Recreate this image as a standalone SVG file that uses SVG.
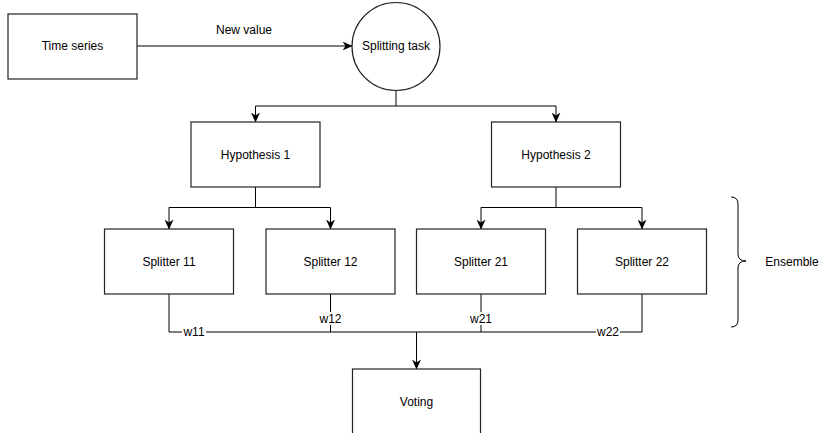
<svg xmlns="http://www.w3.org/2000/svg" width="823" height="433" viewBox="0 0 823 433">
  <style>
    .box { fill: #fff; stroke: #222; stroke-width: 1.2; }
    .edge { fill: none; stroke: #000; stroke-width: 1; }
    .lbl { font-family: "Liberation Sans", Arial, sans-serif; font-size: 12px; fill: #000; text-anchor: middle; dominant-baseline: central; }
    .wbg { fill: #fff; }
  </style>
  <defs>
    <marker id="arrow" viewBox="0 0 10 10" refX="9.5" refY="5" markerWidth="10" markerHeight="9" markerUnits="userSpaceOnUse" orient="auto" preserveAspectRatio="none">
      <path d="M0,0 L10,5 L0,10 L3,5 Z" fill="#000"/>
    </marker>
  </defs>
  <rect width="823" height="433" fill="#fff"/>

  <g id="connectors">
    <!-- input stream -->
    <line class="edge" x1="137" y1="46" x2="352" y2="46" marker-end="url(#arrow)"/>
    <text class="lbl" x="244" y="30">New value</text>
    <!-- task to hypotheses -->
    <path class="edge" d="M396,90 V106 H255.5 V122" marker-end="url(#arrow)"/>
    <path class="edge" d="M396,106 H556 V122" marker-end="url(#arrow)"/>
    <!-- hypotheses to splitters -->
    <path class="edge" d="M255.5,187 V207.5 H169 V229" marker-end="url(#arrow)"/>
    <path class="edge" d="M255.5,207.5 H330.5 V229" marker-end="url(#arrow)"/>
    <path class="edge" d="M556,187 V207.5 H481 V229" marker-end="url(#arrow)"/>
    <path class="edge" d="M556,207.5 H642 V229" marker-end="url(#arrow)"/>
    <!-- weighted splitter outputs -->
    <path class="edge" d="M169,294 V332 H642 V294"/>
    <line class="edge" x1="330.5" y1="294" x2="330.5" y2="332"/>
    <line class="edge" x1="481" y1="294" x2="481" y2="332"/>
    <line class="edge" x1="416.5" y1="332" x2="416.5" y2="369" stroke-width="2" marker-end="url(#arrow)"/>
    <rect class="wbg" x="182" y="325" width="24" height="14"/>
    <text class="lbl" x="194" y="332">w11</text>
    <rect class="wbg" x="318.5" y="312" width="24" height="13"/>
    <text class="lbl" x="330.5" y="318.5">w12</text>
    <rect class="wbg" x="469" y="312" width="24" height="13"/>
    <text class="lbl" x="481" y="319">w21</text>
    <rect class="wbg" x="596" y="325" width="24" height="14"/>
    <text class="lbl" x="608" y="332">w22</text>
  </g>

  <g id="time-series">
    <rect class="box" x="8" y="14" width="129" height="65"/>
    <text class="lbl" x="72.5" y="46">Time series</text>
  </g>
  <g id="splitting-task">
    <circle class="box" cx="396" cy="46.5" r="44"/>
    <text class="lbl" x="396" y="46">Splitting task</text>
  </g>
  <g id="hypothesis-1">
    <rect class="box" x="191" y="122" width="129" height="65"/>
    <text class="lbl" x="255.5" y="154.5">Hypothesis 1</text>
  </g>
  <g id="hypothesis-2">
    <rect class="box" x="491.5" y="122" width="129" height="65"/>
    <text class="lbl" x="556" y="154.5">Hypothesis 2</text>
  </g>
  <g id="splitter-11">
    <rect class="box" x="104.5" y="229" width="129" height="65"/>
    <text class="lbl" x="169" y="261.5">Splitter 11</text>
  </g>
  <g id="splitter-12">
    <rect class="box" x="266" y="229" width="129" height="65"/>
    <text class="lbl" x="330.5" y="261.5">Splitter 12</text>
  </g>
  <g id="splitter-21">
    <rect class="box" x="416.5" y="229" width="129" height="65"/>
    <text class="lbl" x="481" y="261.5">Splitter 21</text>
  </g>
  <g id="splitter-22">
    <rect class="box" x="577.5" y="229" width="129" height="65"/>
    <text class="lbl" x="642" y="261.5">Splitter 22</text>
  </g>
  <g id="voting">
    <rect class="box" x="352.5" y="369" width="128" height="80"/>
    <text class="lbl" x="416.5" y="402">Voting</text>
  </g>
  <g id="ensemble">
    <path class="edge" stroke="#222" d="M731,197 Q738,197 738,204 V254 Q738,261 746,261 Q738,261 738,268 V320 Q738,327 731,327"/>
    <text class="lbl" x="792" y="262">Ensemble</text>
  </g>
</svg>
